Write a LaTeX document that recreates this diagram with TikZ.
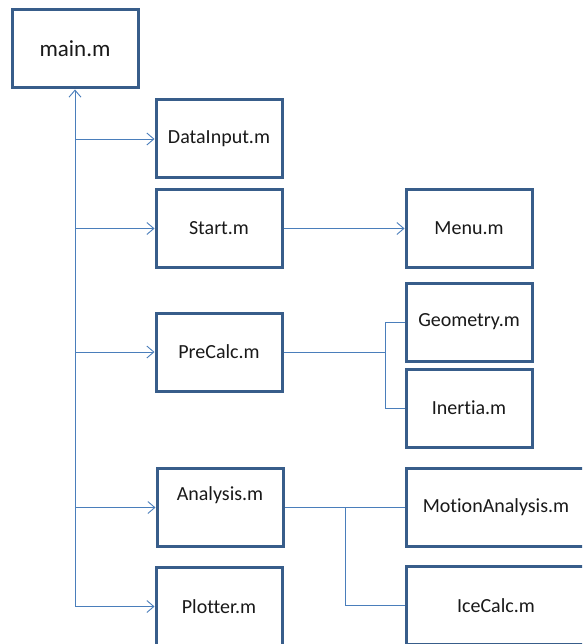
\documentclass[tikz,border=0pt]{standalone}
\usepackage{fontspec}
\setmainfont[Ligatures=NoCommon]{Carlito}
\usetikzlibrary{arrows.meta}
\definecolor{boxline}{HTML}{385D8A}
\definecolor{connline}{HTML}{4A7EBB}
\begin{document}
\begin{tikzpicture}[x=1pt, y=-1pt,
   box/.style={draw=boxline, line width=3pt, rectangle, minimum width=126pt,
               minimum height=78pt, inner sep=0pt, text=black!90,
               font=\fontsize{20}{24}\selectfont},
   widebox/.style={box, minimum width=180pt},
   conn/.style={draw=connline, line width=0.9pt},
   >={Straight Barb[length=7pt,width=12pt]}]

\path[use as bounding box, fill=white] (0,0) rectangle (582,644);
\clip (0,0) rectangle (582,644);

\node[box, font=\fontsize{23}{27}\selectfont] (main) at (75,49) {main.m};
\node[box] (datain)   at (219,139)   {DataInput.m};
\node[box] (start)    at (219,228.5) {Start.m};
\node[box] (menu)     at (469,228.5) {Menu.m};
\node[box] (precalc)  at (219,352)   {PreCalc.m};
\node[box] (geom)     at (469,322)   {Geometry.m};
\node[box] (inert)    at (469,408)   {Inertia.m};
\node[box, text depth=28pt] (analysis) at (220,507.5) {Analysis.m};
\node[widebox] (motion) at (496,507.5) {MotionAnalysis.m};
\node[box] (plot)     at (219,606.5) {Plotter.m};
\node[widebox] (ice)  at (496,605.5) {IceCalc.m};

% trunk from main.m
\draw[conn,<-] (main.south) -- (main.south |- plot.west);
\foreach \n in {datain,start,precalc,analysis,plot}
   \draw[conn,->] (main.south |- \n.west) -- (\n.west);

\draw[conn,->] (start.east) -- (menu.west);

% precalc fork
\draw[conn] (precalc.east) -- ++(102,0) coordinate (pcfork);
\draw[conn] (geom.west) -| (pcfork) |- (inert.west);

% analysis fork
\draw[conn] (analysis.east) -- (motion.west);
\coordinate (anfork) at (345,507.5);
\draw[conn] (anfork) |- (ice.west);

\end{tikzpicture}
\end{document}
